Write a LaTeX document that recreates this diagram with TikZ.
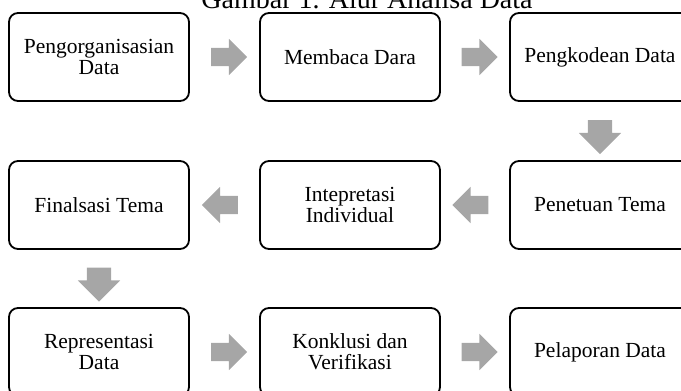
\documentclass[tikz,border=0pt]{standalone}
\usepackage{fontspec}
\setmainfont{Liberation Serif}
\usetikzlibrary{shapes.arrows}
\definecolor{arrowgray}{HTML}{A6A6A6}

\tikzset{
  stage/.style={draw=black, line width=1.8pt, rounded corners=9pt, fill=white,
    minimum width=180pt, minimum height=88pt, inner sep=0pt, align=center,
    font=\fontsize{21.5}{21}\selectfont},
  flow/.style={single arrow, fill=arrowgray, draw=none, inner xsep=0pt,
    inner ysep=9pt, single arrow head extend=9pt, minimum height=36pt},
  flowdown/.style={flow, inner ysep=12pt, minimum height=34pt, rotate=-90}
}

\begin{document}
\begin{tikzpicture}[x=1pt, y=-1pt]

\useasboundingbox (0,0) rectangle (681,391);
\clip (0,0) rectangle (681,391);

\node[font=\fontsize{28}{30}\selectfont, anchor=base] (judul) at (367,8) {Gambar 1. Alur Analisa Data};

\node[stage] (org) at (99,57) {Pengorganisasian\\Data};
\node[stage] (baca) at (350,57) {Membaca Dara};
\node[stage] (kode) at (600,57) {Pengkodean Data};

\node[stage] (final) at (99,205) {Finalsasi Tema};
\node[stage] (tafsir) at (350,205) {Intepretasi\\Individual};
\node[stage] (tema) at (600,205) {Penetuan Tema};

\node[stage] (repr) at (99,352) {Representasi\\Data};
\node[stage] (konklusi) at (350,352) {Konklusi dan\\Verifikasi};
\node[stage] (lapor) at (600,352) {Pelaporan Data};

\path (org) -- (baca) node[midway, flow] (a1) {};
\path (baca) -- (kode) node[midway, flow] (a2) {};
\path (kode) -- (tema) node[midway, flowdown] (a3) {};
\path (tema) -- (tafsir) node[midway, flow, rotate=180] (a4) {};
\path (tafsir) -- (final) node[midway, flow, rotate=180] (a5) {};
\path (final) -- (repr) node[midway, flowdown] (a6) {};
\path (repr) -- (konklusi) node[midway, flow] (a7) {};
\path (konklusi) -- (lapor) node[midway, flow] (a8) {};

\end{tikzpicture}
\end{document}
